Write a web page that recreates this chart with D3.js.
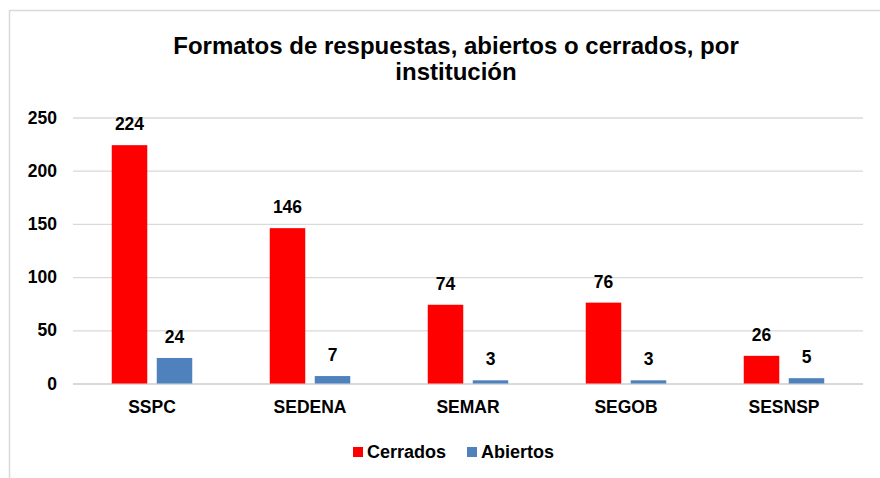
<!DOCTYPE html>
<html>
<head>
<meta charset="utf-8">
<script src="https://d3js.org/d3.v7.min.js"></script>
<style>
  body { margin: 0; background: #fff; }
  text { font-family: "Liberation Sans", Arial, sans-serif; font-weight: bold; fill: #000; }
</style>
</head>
<body>
<script>
//chart data
var categories = ["SSPC", "SEDENA", "SEMAR", "SEGOB", "SESNSP"];
var seriesNames = ["Cerrados", "Abiertos"];
var cerrados = [224, 146, 74, 76, 26];
var abiertos = [24, 7, 3, 3, 5];
var yTicks = [0, 50, 100, 150, 200, 250];
var titleLines = ["Formatos de respuestas, abiertos o cerrados, por", "institución"];

var colors = {Cerrados: "#ff0000", Abiertos: "#4f81bd"};

//svg size
var w = 880, h = 478;

var svg = d3.select("body")
    .append("svg")
    .attr("width", w)
    .attr("height", h);

//chart frame (runs off right and bottom edge like the reference)
svg.append("rect")
    .attr("x", 9.5)
    .attr("y", 10.5)
    .attr("width", 1000)
    .attr("height", 600)
    .style("fill", "#fff")
    .style("stroke", "#d9d9d9")
    .style("stroke-width", 1.5);

//title
svg.append("text")
    .attr("x", 456)
    .attr("y", 54)
    .attr("text-anchor", "middle")
    .style("font-size", "24px")
    .selectAll("tspan")
    .data(titleLines)
    .enter()
    .append("tspan")
    .attr("x", 456)
    .attr("dy", function(d, i){ return i ? 26 : 0; })
    .text(function(d){ return d; });

//plot area
var plotL = 73, plotR = 863, plotT = 117.5, plotB = 383.5;

var x0 = d3.scaleBand()
    .domain(categories)
    .range([plotL, plotR]);

var x1 = d3.scaleBand()
    .domain(seriesNames)
    .range([0, x0.bandwidth()])
    .paddingInner(0.211)
    .paddingOuter(0.861);

var y = d3.scaleLinear()
    .domain([0, 250])
    .range([plotB, plotT]);

//gridlines + y tick labels
var yAxis = d3.axisLeft(y)
    .tickValues(yTicks)
    .tickSize(-(plotR - plotL))
    .tickPadding(16);

var gy = svg.append("g")
    .attr("transform", "translate(" + plotL + ",0)")
    .call(yAxis);

gy.select(".domain").remove();
gy.selectAll(".tick line")
    .style("stroke", "#d9d9d9")
    .style("stroke-width", function(d){ return d === 0 ? 2 : 1.3; });
gy.selectAll(".tick text")
    .style("font-size", "17.5px")
    .style("font-family", "Liberation Sans, Arial, sans-serif")
    .style("font-weight", "bold")
    .attr("fill", "#000");

//rows for bars
var rows = categories.map(function(c, i){
    return {cat: c, vals: [
        {name: "Cerrados", v: cerrados[i]},
        {name: "Abiertos", v: abiertos[i]}
    ]};
});

var groups = svg.selectAll(".grp")
    .data(rows)
    .enter()
    .append("g")
    .attr("class", "grp")
    .attr("transform", function(d){ return "translate(" + x0(d.cat) + ",0)"; });

groups.selectAll("rect")
    .data(function(d){ return d.vals; })
    .enter()
    .append("rect")
    .attr("x", function(d){ return x1(d.name); })
    .attr("y", function(d){ return y(d.v); })
    .attr("width", x1.bandwidth())
    .attr("height", function(d){ return plotB - y(d.v); })
    .style("fill", function(d){ return colors[d.name]; });

//value labels
groups.selectAll(".lbl")
    .data(function(d){ return d.vals; })
    .enter()
    .append("text")
    .attr("class", "lbl")
    .attr("x", function(d){ return x1(d.name) + x1.bandwidth() / 2; })
    .attr("y", function(d){ return y(d.v) - 15; })
    .attr("text-anchor", "middle")
    .style("font-size", "17.5px")
    .text(function(d){ return d.v; });

//category labels
svg.selectAll(".cat")
    .data(categories)
    .enter()
    .append("text")
    .attr("class", "cat")
    .attr("x", function(d){ return x0(d) + x0.bandwidth() / 2; })
    .attr("y", 412.5)
    .attr("text-anchor", "middle")
    .style("font-size", "17.5px")
    .text(function(d){ return d; });

//legend
var legendX = [353, 467];
var legend = svg.selectAll(".leg")
    .data(seriesNames)
    .enter()
    .append("g")
    .attr("class", "leg")
    .attr("transform", function(d, i){ return "translate(" + legendX[i] + ",447)"; });

legend.append("rect")
    .attr("width", 10)
    .attr("height", 10)
    .style("fill", function(d){ return colors[d]; });

legend.append("text")
    .attr("x", 14)
    .attr("y", 11)
    .style("font-size", "18px")
    .text(function(d){ return d; });
</script>
</body>
</html>
